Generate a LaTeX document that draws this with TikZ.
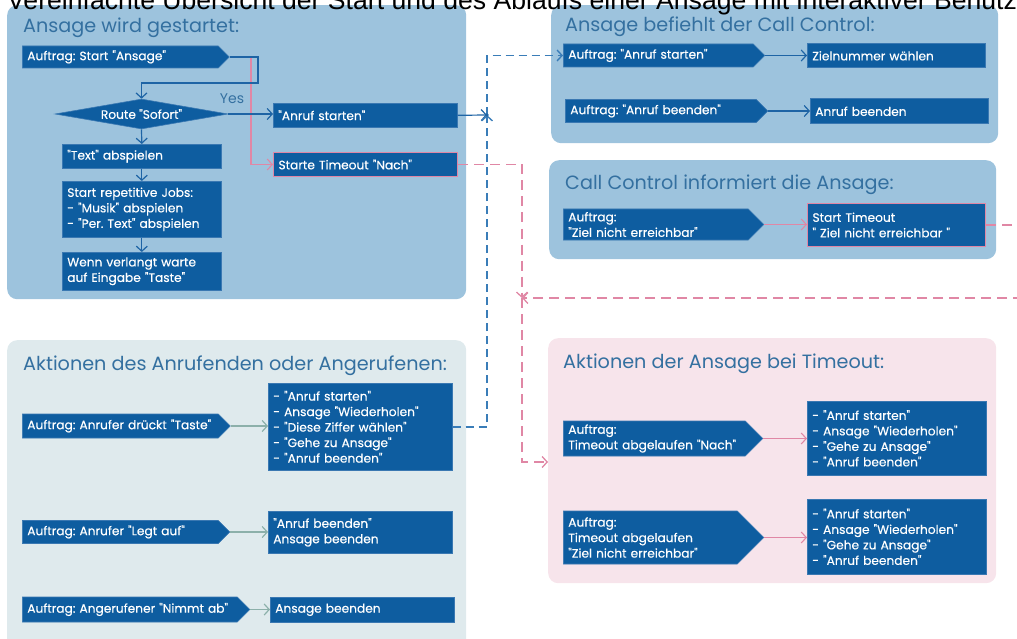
\documentclass[tikz,border=0pt]{standalone}
\usepackage{fontspec}
\setmainfont{Poppins}
\newfontfamily\boxfamily{Poppins}[FakeBold=0.35]
\newfontfamily\headfamily{Liberation Sans}
\usetikzlibrary{arrows.meta,shapes.geometric,shapes.symbols}

\definecolor{boxblue}{HTML}{0E5DA0}
\definecolor{boxedge}{HTML}{3A78B2}
\definecolor{panelblue}{HTML}{9DC3DD}
\definecolor{panelgray}{HTML}{DFEAED}
\definecolor{panelpink}{HTML}{F7E4EB}
\definecolor{titleblue}{HTML}{3470A0}
\definecolor{lineblue}{HTML}{1E64A5}
\definecolor{dashblue}{HTML}{3A7DB8}
\definecolor{pinkline}{HTML}{E087A5}
\definecolor{greenline}{HTML}{8CB0AA}

\newcommand\boxfont{\boxfamily\fontsize{12.2}{15.5}\selectfont}
\newcommand\titlefont{\fontsize{19.2}{22}\selectfont}

\tikzset{
  panel/.style={rectangle, rounded corners=10pt, anchor=north west, inner sep=0pt, draw=none},
  ptitle/.style={anchor=base west, inner sep=0pt, text=titleblue, font=\titlefont},
  order/.style={shape=signal, signal to=east, signal from=nowhere, signal pointer angle=90,
    fill=boxblue, draw=boxedge, line width=0.6pt, text=white, font=\boxfont,
    align=left, inner xsep=5pt, inner ysep=0pt, anchor=west},
  box/.style={rectangle, fill=boxblue, draw=boxedge, line width=0.6pt, text=white,
    font=\boxfont, align=left, inner xsep=5pt, inner ysep=0pt, anchor=north west},
  timer/.style={box, draw=pinkline, line width=1pt},
  tip/.style={-{Straight Barb[length=5pt,width=11pt]}},
  flow/.style={tip, draw=lineblue, line width=1.2pt},
  pinkflow/.style={tip, draw=pinkline, line width=1.1pt},
  greenflow/.style={tip, draw=greenline, line width=1.2pt},
  dashflow/.style={draw=dashblue, line width=1.4pt, dash pattern=on 8pt off 5pt},
  pinkdash/.style={draw=pinkline, line width=1.3pt, dash pattern=on 10pt off 6pt},
}

\begin{document}
\frenchspacing
\begin{tikzpicture}[x=1pt,y=-1pt]
\useasboundingbox (0,0) rectangle (1017,639);
\clip (0,0) rectangle (1017,639);

% background panels
\node[panel, fill=panelblue, minimum width=459pt, minimum height=294pt] (pstart) at (7,5) {};
\node[panel, fill=panelblue, minimum width=447pt, minimum height=138pt] (pcmd) at (551,5) {};
\node[panel, fill=panelblue, minimum width=447pt, minimum height=99pt] (pinfo) at (549,160) {};
\node[panel, fill=panelgray, minimum width=459pt, minimum height=320pt] (pact) at (7,340) {};
\node[panel, fill=panelpink, minimum width=448pt, minimum height=245pt] (ptime) at (548,338) {};

% panel headings
\node[ptitle] (tstart) at (23,33) {Ansage wird gestartet:};
\node[ptitle] (tcmd) at (565,32) {Ansage befiehlt der Call Control:};
\node[ptitle] (tinfo) at (565,190) {Call Control informiert die Ansage:};
\node[ptitle] (tact) at (23,370) {Aktionen des Anrufenden oder Angerufenen:};
\node[ptitle] (ttime) at (563,368) {Aktionen der Ansage bei Timeout:};

% start of the announcement
\node[order, text width=186pt, minimum height=22pt] (a1) at (22,57) {Auftrag: Start "Ansage"};
\node[diamond, aspect=6, fill=boxblue, draw=boxedge, line width=0.6pt, minimum width=173pt,
  minimum height=30pt, inner sep=0pt, text=white, font=\boxfont] (route) at (141.5,114) {Route "Sofort"};
\node[inner sep=0pt, text=titleblue, font=\fontsize{14}{16}\selectfont] (yes) at (232,99) {Yes};
\node[box, text width=174pt, minimum height=24pt] (astart) at (273,103) {"Anruf starten"};
\node[timer, text width=174pt, minimum height=24pt] (tnach) at (273,152) {Starte Timeout "Nach"};
\node[box, text width=149pt, minimum height=24pt] (play) at (62,144) {"Text" abspielen};
\node[box, text width=149pt, minimum height=56pt] (jobs) at (62,181) {Start repetitive Jobs:\\- "Musik" abspielen\\- "Per. Text" abspielen};
\node[box, text width=149pt, minimum height=38pt] (wait) at (62,252) {Wenn verlangt warte\\auf Eingabe "Taste"};

% commands to call control
\node[order, text width=180pt, minimum height=23pt] (c1) at (563,55.5) {Auftrag: "Anruf starten"};
\node[box, text width=168pt, minimum height=24pt] (c1z) at (807,43.5) {Zielnummer wählen};
\node[order, text width=181pt, minimum height=23pt] (c2) at (565,111) {Auftrag: "Anruf beenden"};
\node[box, text width=168pt, minimum height=25pt] (c2z) at (810,98.5) {Anruf beenden};

% call control feedback
\node[order, text width=175pt, minimum height=31pt] (c3) at (563,224.5) {Auftrag:\\"Ziel nicht erreichbar"};
\node[timer, text width=168pt, minimum height=42pt] (c3z) at (807,203.5) {Start Timeout\\" Ziel nicht erreichbar "};

% caller / callee actions
\node[order, text width=186pt, minimum height=24pt] (e1) at (22,426) {Auftrag: Anrufer drückt "Taste"};
\node[box, text width=174pt, minimum height=87pt] (e1r) at (268,383) {- "Anruf starten"\\- Ansage "Wiederholen"\\- "Diese Ziffer wählen"\\- "Gehe zu Ansage"\\- "Anruf beenden"};
\node[order, text width=186pt, minimum height=23pt] (e2) at (22,532) {Auftrag: Anrufer "Legt auf"};
\node[box, text width=174pt, minimum height=42pt] (e2r) at (268,511) {"Anruf beenden"\\Ansage beenden};
\node[order, text width=205pt, minimum height=25pt] (e3) at (22,609.5) {Auftrag: Angerufener "Nimmt ab"};
\node[box, text width=174pt, minimum height=25pt] (e3r) at (270,597) {Ansage beenden};

% timeout actions
\node[order, text width=172pt, minimum height=35pt] (t1) at (563,438.5) {Auftrag:\\Timeout abgelaufen "Nach"};
\node[box, text width=169pt, minimum height=74pt] (t1r) at (807,401) {- "Anruf starten"\\- Ansage "Wiederholen"\\- "Gehe zu Ansage"\\- "Anruf beenden"};
\node[order, text width=164pt, minimum height=53pt] (t2) at (563,537.5) {Auftrag:\\Timeout abgelaufen\\"Ziel nicht erreichbar"};
\node[box, text width=169pt, minimum height=75pt] (t2r) at (807,499) {- "Anruf starten"\\- Ansage "Wiederholen"\\- "Gehe zu Ansage"\\- "Anruf beenden"};

% routing points
\coordinate (loopr) at (258,83);
\coordinate (split) at (251,57);
\coordinate (join) at (487,115);
\coordinate (pdrop) at (522,298);
\coordinate (poff) at (1040,298);
\coordinate (p5in) at (548,462);

% connectors inside the start panel
\draw[pinkflow] (split) |- (tnach.west);
\draw[flow] (a1.east) -| (loopr) -| (route.north);
\draw[flow] (route.east) -- (route.east -| astart.west);
\draw[flow] (route.south) -- (play.north);
\draw[flow] (play.south) -- (jobs.north);
\draw[flow] (jobs.south) -- (wait.north);

% connectors to call control
\draw[flow] (astart.east) -- (join);
\draw[dashflow, tip] (e1r.east) -| (join);
\draw[dashflow, tip] (join) |- (c1.west);
\fill[lineblue] (join) circle (1.8pt);
\draw[flow] (c1.east) -- (c1.east -| c1z.west);
\draw[flow] (c2.east) -- (c2.east -| c2z.west);
\draw[pinkflow] (c3.east) -- (c3.east -| c3z.west);

% timeout routes
\draw[pinkdash, tip] (tnach.east) -| (pdrop);
\draw[pinkdash, tip] (c3z.east) -- (c3z.east -| poff) -- (poff) -- (pdrop);
\draw[pinkdash, tip] (pdrop) |- (p5in);

% action arrows
\draw[greenflow] (e1.east) -- (e1.east -| e1r.west);
\draw[greenflow] (e2.east) -- (e2.east -| e2r.west);
\draw[greenflow] (e3.east) -- (e3.east -| e3r.west);
\draw[pinkflow] (t1.east) -- (t1.east -| t1r.west);
\draw[pinkflow] (t2.east) -- (t2.east -| t2r.west);

% page heading
\node[anchor=base west, inner sep=0pt, font=\headfamily\fontsize{26.6}{30}\selectfont] (head) at (7,10)
  {Vereinfachte Übersicht der Start und des Ablaufs einer Ansage mit interaktiver Benutzerführung};
\end{tikzpicture}
\end{document}
